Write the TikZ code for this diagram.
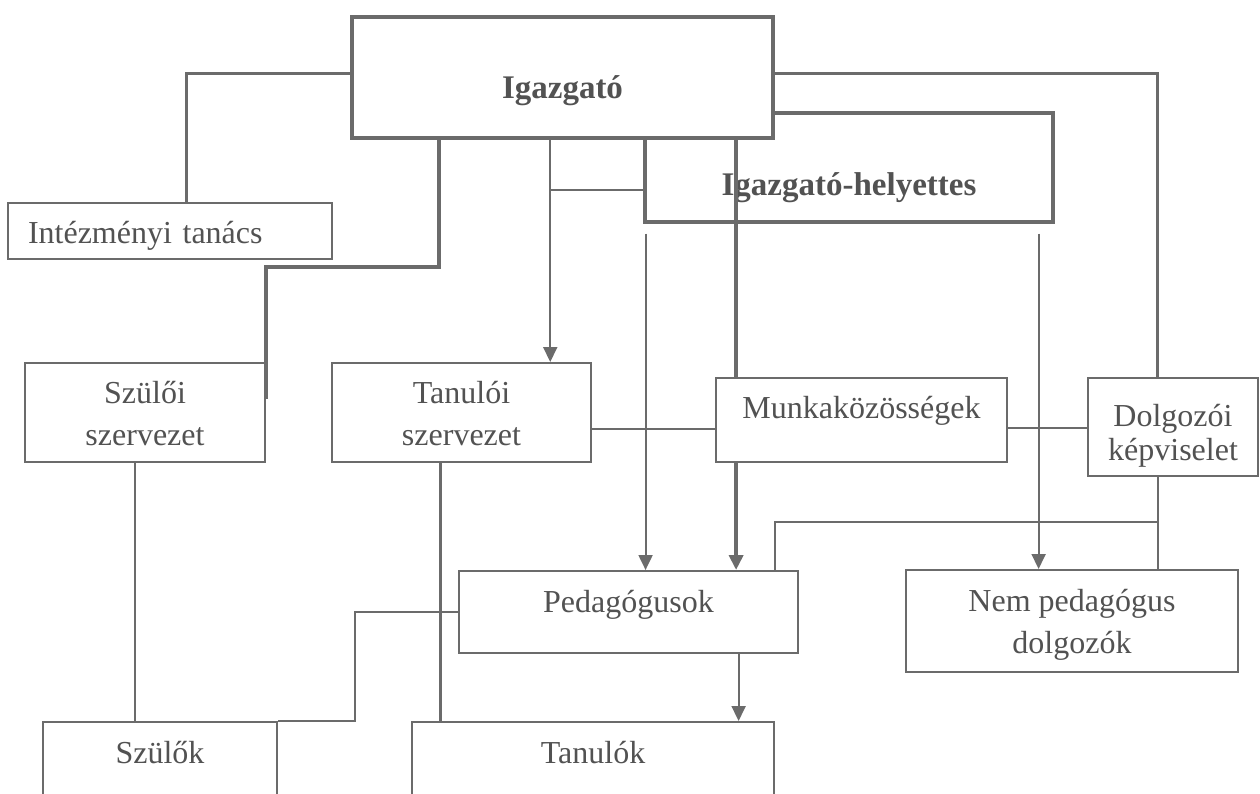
\documentclass[tikz,border=0pt]{standalone}
\usepackage{fontspec}
\setmainfont{Liberation Serif}
\usetikzlibrary{calc,arrows.meta}
\definecolor{linegray}{gray}{0.42}
\definecolor{textgray}{gray}{0.32}

\tikzset{
  unit/.style={draw=linegray, line width=2pt, fill=white, inner sep=0pt, align=center,
    text=textgray, font=\fontsize{32}{42}\selectfont},
  head/.style={unit, line width=3.4pt, font=\fontsize{33}{42}\selectfont\bfseries},
  link/.style={draw=linegray, line width=2pt},
  heavy/.style={draw=linegray, line width=3.3pt},
  arr/.style={-{Triangle[length=15pt,width=14pt]}},
}

\begin{document}
\begin{tikzpicture}[x=1pt,y=-1pt]
	\useasboundingbox (0,0) rectangle (1260,793);
	\clip (0,0) rectangle (1260,793);
	
	%%%%% BOXES %%%%%
	\node[head, minimum width=408pt, minimum height=109pt, text height=62pt, text depth=7pt] (helyettes) at (849,167.5) {Igazgató-helyettes};
	\node[head, minimum width=421pt, minimum height=121pt, text height=49pt, text depth=7pt] (igazgato) at (562.5,77.5) {Igazgató};
	
	\node[unit, minimum width=324pt, minimum height=56pt, text width=284pt, align=left, text height=31pt, text depth=7pt] (intezmeny) at (170,231) {Intézményi tanács};
	
	\node[unit, minimum width=240pt, minimum height=99pt, text height=72pt, text depth=7pt] (szulszerv) at (145,412.5) {Szülői\\szervezet};
	\node[unit, minimum width=259pt, minimum height=99pt, text height=72pt, text depth=7pt] (tanszerv) at (461.5,412.5) {Tanulói\\szervezet};
	\node[unit, minimum width=291pt, minimum height=84pt, text height=3pt, text depth=7pt] (munka) at (861.5,420) {Munkaközösségek};
	\node[unit, minimum width=170pt, minimum height=98pt, font=\fontsize{32}{34}\selectfont, text height=73pt, text depth=7pt] (dolgozoi) at (1173,427) {Dolgozói\\képviselet};
	
	\node[unit, minimum width=339pt, minimum height=82pt, text height=7pt, text depth=7pt] (pedagog) at (628.5,612) {Pedagógusok};
	\node[unit, minimum width=332pt, minimum height=102pt, text height=71pt, text depth=7pt] (nempedag) at (1072,621) {Nem pedagógus\\dolgozók};
	
	\node[unit, minimum width=234pt, minimum height=88pt, text height=1pt, text depth=7pt] (szulok) at (160,766) {Szülők};
	\node[unit, minimum width=362pt, minimum height=88pt, text height=1pt, text depth=7pt] (tanulok) at (593,766) {Tanulók};
	
	%%%%% LINKS %%%%%
	\coordinate (tsz) at ($(tanszerv.north west)!0.84!(tanszerv.north east)$);
	\coordinate (mk) at ($(munka.north west)!0.072!(munka.north east)$);
	\coordinate (px) at ($(pedagog.north west)!0.55!(pedagog.north east)$);
	\coordinate (nx) at ($(nempedag.north west)!0.40!(nempedag.north east)$);
	\coordinate (tk) at ($(tanulok.north west)!0.90!(tanulok.north east)$);
	\coordinate (dk) at ($(dolgozoi.south west)!0.41!(dolgozoi.south east)$);
	\coordinate (ssz) at ($(szulszerv.south west)!0.46!(szulszerv.south east)$);
	\coordinate (tsb) at ($(tanszerv.south west)!0.42!(tanszerv.south east)$);
	
	\draw[heavy] ([yshift=4pt]igazgato.west) -| ($(intezmeny.north west)!0.55!(intezmeny.north east)$);
	\draw[heavy] ([yshift=4pt]igazgato.east) -| ($(dolgozoi.north west)!0.41!(dolgozoi.north east)$);
	\draw[heavy] ($(igazgato.south west)!0.209!(igazgato.south east)$) |- ([yshift=95pt]szulszerv.north east) -- ($(szulszerv.north east)!0.37!(szulszerv.south east)$);
	
	\draw[link, arr] (igazgato.south -| tsz) -- (tsz);
	\draw[link] ([yshift=-22pt]helyettes.west) -- ([yshift=-22pt]helyettes.west -| tsz);
	
	\draw[heavy, line width=3.8pt] (igazgato.south -| mk) -- (mk);
	\draw[heavy, line width=3.8pt, arr] (munka.south -| mk) -- (pedagog.north -| mk);
	
	\draw[link, arr] ($(helyettes.south -| px)+(0,10)$) -- (px);
	\draw[link, arr] ($(helyettes.south -| nx)+(0,10)$) -- (nx);
	
	\draw[link] ([yshift=-16pt]tanszerv.east) -- ([yshift=-16pt]tanszerv.east -| munka.west);
	\draw[link] ([yshift=-8pt]munka.east) -- ([yshift=-8pt]munka.east -| dolgozoi.west);
	
	\draw[link] (dk) -- (nempedag.north -| dk);
	\draw[link] ($(dk)+(0,45)$) -| ($(pedagog.north west)!0.93!(pedagog.north east)$);
	
	\draw[link, arr] (pedagog.south -| tk) -- (tk);
	\draw[link] (ssz) -- (ssz |- szulok.north);
	\draw[heavy] (tsb) -- (tsb |- tanulok.north);
	\draw[link] (pedagog.west) -| ([xshift=77pt]szulok.north east) -- (szulok.north east);
\end{tikzpicture}
\end{document}
